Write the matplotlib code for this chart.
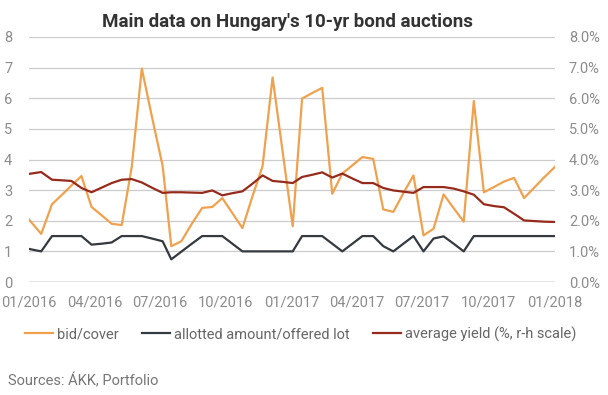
import matplotlib
matplotlib.use("Agg")
import matplotlib.pyplot as plt
import matplotlib.dates as mdates
from matplotlib.ticker import FuncFormatter, MultipleLocator
import pandas as pd

plt.rcParams['font.family'] = ['Roboto', 'DejaVu Sans']

dates = ["2016-01-01", "2016-01-18", "2016-02-02", "2016-02-16", "2016-02-29", "2016-03-14",
         "2016-03-28", "2016-04-11", "2016-04-25", "2016-05-09", "2016-05-23", "2016-06-06",
         "2016-06-20", "2016-07-05", "2016-07-17", "2016-07-31", "2016-08-14", "2016-08-29",
         "2016-09-12", "2016-09-26", "2016-10-10", "2016-10-24", "2016-11-07", "2016-11-21",
         "2016-12-05", "2016-12-19", "2017-01-02", "2017-01-15", "2017-01-29", "2017-02-12",
         "2017-02-26", "2017-03-12", "2017-03-26", "2017-04-09", "2017-04-24", "2017-05-08",
         "2017-05-22", "2017-06-05", "2017-06-19", "2017-07-03", "2017-07-17", "2017-07-31",
         "2017-08-14", "2017-08-28", "2017-09-11", "2017-09-25", "2017-10-09", "2017-10-23",
         "2017-11-06", "2017-11-20", "2017-12-04", "2017-12-18", "2018-01-02"]

bid_cover = [2.04, 1.57, 2.54, 2.85, 3.15, 3.46, 2.45, 2.18, 1.90, 1.86, 3.76, 6.97,
             5.40, 3.79, 1.17, 1.33, 1.88, 2.42, 2.45, 2.74, 2.25, 1.76, 2.80, 3.78,
             6.68, 4.25, 1.82, 5.99, 6.17, 6.34, 2.88, 3.54, 3.81, 4.08, 4.02, 2.37,
             2.29, 2.90, 3.48, 1.52, 1.74, 2.86, 2.41, 1.97, 5.91, 2.93, 3.10, 3.28,
             3.40, 2.74, 3.08, 3.42, 3.76]

allotted = [1.08, 1.00, 1.50, 1.50, 1.50, 1.50, 1.22, 1.25, 1.29, 1.50, 1.50, 1.50,
            1.42, 1.33, 0.74, 0.99, 1.24, 1.50, 1.50, 1.50, 1.25, 1.00, 1.00, 1.00,
            1.00, 1.00, 1.00, 1.50, 1.50, 1.50, 1.25, 1.00, 1.25, 1.50, 1.50, 1.17,
            1.00, 1.25, 1.50, 1.00, 1.42, 1.49, 1.25, 1.00, 1.50, 1.50, 1.50, 1.50,
            1.50, 1.50, 1.50, 1.50, 1.50]

avg_yield = [3.53, 3.59, 3.34, 3.32, 3.30, 3.07, 2.93, 3.08, 3.23, 3.34, 3.36, 3.25,
             3.08, 2.91, 2.93, 2.93, 2.92, 2.91, 2.99, 2.83, 2.90, 2.96, 3.21, 3.48,
             3.30, 3.27, 3.23, 3.43, 3.50, 3.58, 3.41, 3.54, 3.38, 3.23, 3.23, 3.07,
             2.99, 2.95, 2.91, 3.10, 3.10, 3.10, 3.05, 2.96, 2.85, 2.54, 2.48, 2.44,
             2.23, 2.01, 1.99, 1.97, 1.96]

series_labels = ["bid/cover", "allotted amount/offered lot", "average yield (%, r-h scale)"]
colors = ["#F0A14E", "#343A40", "#962B1C"]

x = pd.to_datetime(dates)

fig = plt.figure(figsize=(6.08, 3.95), dpi=100)
ax = fig.add_axes([29/608, 113/395, 526/608, 245/395])
ax2 = ax.twinx()

l1, = ax.plot(x, bid_cover, color=colors[0], lw=1.6, label=series_labels[0])
l2, = ax.plot(x, allotted, color=colors[1], lw=1.6, label=series_labels[1])
l3, = ax2.plot(x, avg_yield, color=colors[2], lw=1.6, label=series_labels[2])

ax.set_ylim(0, 8)
ax2.set_ylim(0, 8)
ax.yaxis.set_major_locator(MultipleLocator(1))
ax2.yaxis.set_major_locator(MultipleLocator(1))
ax2.yaxis.set_major_formatter(FuncFormatter(lambda v, p: f"{v:.1f}%"))

ax.set_xlim(pd.Timestamp("2016-01-01"), pd.Timestamp("2018-01-02"))
ax.xaxis.set_major_locator(mdates.MonthLocator(bymonth=[1, 4, 7, 10]))
ax.xaxis.set_major_formatter(mdates.DateFormatter("%m/%Y"))

ax.grid(axis='y', color='#CCCCCC', lw=0.9)
ax.set_axisbelow(True)
for a in (ax, ax2):
    for s in a.spines.values():
        s.set_visible(False)
ax.axhline(0, color='#999999', lw=1.0, zorder=1)

tick_col = '#8C8C8C'
ax.tick_params(axis='y', length=0, pad=12, labelsize=10.5, labelcolor=tick_col)
ax2.tick_params(axis='y', length=0, pad=10, labelsize=10.5, labelcolor=tick_col)
ax.tick_params(axis='x', length=0, pad=10, labelsize=10.5, labelcolor=tick_col)

fig.text(287/608, 1 - 22/395, "Main data on Hungary's 10-yr bond auctions",
         ha='center', va='center', fontsize=13.5, fontweight='bold', color='#333333')

leg = fig.legend(handles=[l1, l2, l3], loc='center', bbox_to_anchor=(301/608, 1 - 334/395),
                 ncol=3, frameon=False, fontsize=10.5, handlelength=1.9, handletextpad=0.3,
                 columnspacing=1.6)
for t in leg.get_texts():
    t.set_color('#666666')

fig.text(8/608, 1 - 381/395, "Sources: ÁKK, Portfolio", ha='left', va='center',
         fontsize=10.5, color='#777777')

fig.savefig("out.png", dpi=100)
